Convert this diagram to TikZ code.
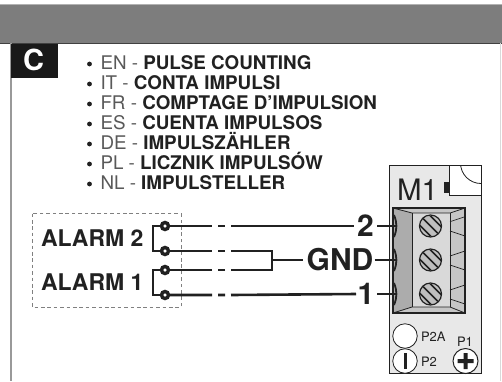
\documentclass[tikz,border=0pt]{standalone}
\usepackage{fontspec}
\setmainfont{TeX Gyre Heros}
\definecolor{txt}{gray}{0.13}
\definecolor{thin}{gray}{0.35}
\tikzset{
  every node/.style={inner sep=0pt,outer sep=0pt,text=txt},
  li/.style={anchor=base west,font=\fontsize{18.8}{20}\selectfont},
  big/.style={font=\bfseries\fontsize{30}{32}\selectfont},
  alarm/.style={font=\bfseries\fontsize{23}{25}\selectfont,anchor=base east},
  term/.style={circle,draw=txt,fill=white,line width=3.4pt,minimum size=7pt},
  wire/.style={draw=txt,line width=1.6pt},
  wirethick/.style={draw=txt,line width=2.6pt},
  block/.style={draw=txt,line width=1.1pt,line join=miter},
  thinl/.style={draw=txt,line width=.7pt},
  screw/.style={circle,draw=txt,line width=1.2pt,fill=gray!50,minimum size=22pt}
}
\newcommand{\entry}[3]{\fill[txt] (89.5,#1-5) circle (2.4);
  \node[li] at (100.5,#1.5) {\textcolor{thin}{#2 - }\textbf{#3}};}
\begin{document}
\begin{tikzpicture}[x=1pt,y=-1pt]
\useasboundingbox (0,0) rectangle (502,381);
\fill[white] (0,0) rectangle (502,381);
% header
\fill[gray!98!black] (0,5) rectangle (502,43);
\draw[gray!60,line width=.8pt] (0,4.5) -- (502,4.5);
\draw[black!75,line width=.8pt] (0,43) -- (502,43);
\draw[gray!80,line width=1.2pt] (11,43) -- (11,381);
\draw[gray!30,line width=.6pt] (500.5,43) -- (500.5,381);
\fill[black!90] (11,44) rectangle (57.5,77.5);
\node[font=\bfseries\fontsize{29}{30}\selectfont,text=white] (lc) at (33.5,60) {C};
% list
\entry{69}{EN}{PULSE COUNTING}
\entry{89}{IT}{CONTA IMPULSI}
\entry{109}{FR}{COMPTAGE D’IMPULSION}
\entry{129}{ES}{CUENTA IMPULSOS}
\entry{149}{DE}{IMPULSZÄHLER}
\entry{169}{PL}{LICZNIK IMPULSÓW}
\entry{189}{NL}{IMPULSTELLER}
% dashed box
\draw[gray,line width=.8pt,dash pattern=on 3.6pt off 2.8pt] (32,213.5) rectangle (181,307);
\node[alarm] (a2) at (143.5,246) {ALARM 2};
\node[alarm] (a1) at (143.5,290) {ALARM 1};
% module
\draw[fill=gray!18,draw=txt,line width=.9pt] (389,165.5) rectangle (481,373.5);
\draw[draw=txt,line width=.9pt,fill=white] (449,165.5) rectangle (481,195);
\begin{scope}
\clip (449,165.5) rectangle (481,195);
\draw[draw=txt,line width=.8pt] (481,163) circle (20.5);
\end{scope}
\fill[txt] (443.5,182) rectangle (449,192.5);
\node[font=\fontsize{29.5}{31}\selectfont,anchor=base west] (m1) at (397,200.5) {M1};
% terminal block
\path[fill=gray!45] (393,208) rectangle (465,313);
\fill[gray!65] (393,208) -- (412,213) -- (412,307) -- (393,313) -- cycle;
\fill[gray!30] (412,213) rectangle (450,307);
\draw[thinl,line width=.8pt] (393,208) -- (412,213) -- (450,213) -- (465,208);
\draw[thinl,line width=.8pt] (393,313) -- (412,307) -- (450,307) -- (465,313);
\draw[thinl,line width=.8pt] (412,213) -- (412,307) (450,213) -- (450,307);
\foreach \a/\b in {221.7/216.7,231/236,256/251,265/270,290/285,299/304}{
  \draw[thinl] (450,\a) -- (465,\b);
}
\draw[block] (393,208) rectangle (465,313);
\foreach \y/\n in {226/sa,260/sb,294/sc}{
  \node[screw] (\n) at (430.5,\y) {};
  \begin{scope}
  \clip (430.5,\y) circle (10.5);
  \foreach \d in {-5,0,5}{
    \draw[txt,line width=1.5pt] (430.5-11+\d,\y-11-\d) -- (430.5+11+\d,\y+11-\d);
  }
  \end{scope}
  \draw[txt,line width=1.8pt] (394,\y-11) to[bend left=22] (394,\y+11);
}
% buttons
\node[circle,draw=txt,line width=.8pt,fill=white,minimum size=24.5pt] (p2a) at (405,336) {};
\node[circle,draw=txt,line width=.8pt,fill=white,minimum size=24.5pt] (p2) at (405,361) {};
\node[circle,draw=txt,line width=1pt,fill=white,minimum size=25pt] (p1) at (465.5,361) {};
\fill[txt] (403.5,353) rectangle (406.5,369);
\fill[txt] (457.5,359) rectangle (473.5,363) (463.5,353) rectangle (467.5,369);
\node[font=\fontsize{13}{14}\selectfont,anchor=base west] at (421,341) {P2A};
\node[font=\fontsize{13}{14}\selectfont,anchor=base west] at (421,366) {P2};
\node[font=\fontsize{13}{14}\selectfont,anchor=base] at (465,346) {P1};
% terminals and labels
\node[big,anchor=base] (n2) at (365.5,236.5) {2};
\node[big,anchor=base] (ng) at (340,270.5) {GND};
\node[big,anchor=base] (n1) at (366,304.5) {1};
\coordinate (j) at (272,260);
\coordinate (t2) at (397,226);
\coordinate (tg) at (397,260);
\coordinate (t1) at (397,294);
\coordinate (e2) at (377,226);
\coordinate (eg) at (374.5,260);
\coordinate (e1) at (377,294);
\coordinate (w2) at (354,226);
\coordinate (wg) at (303,260);
\coordinate (w1) at (356,294);
\node[term] (c1) at (165,226) {};
\node[term] (c2) at (165,251) {};
\node[term] (c3) at (165,270) {};
\node[term] (c4) at (165,295) {};
% brackets
\draw[wire,line width=1.3pt] (c1) -| (153,251) -- (c2);
\draw[wire,line width=1.3pt] (c3) -| (153,295) -- (c4);
% wires with gaps
\draw[wirethick] (c1) -- (212,226) (218,226) -- (225,226) (231,226) -- (w2);
\draw[wirethick] (c4) -- (212,295) (218,295) -- (225,295) (231,295) -- (w1);
\draw[wire] (c2) -- (212,251) (218,251) -- (225,251) (231,251) -- (272,251) -- (272,270) -- (231,270) (225,270) -- (218,270) (212,270) -- (c3);
\draw[wirethick] (j) -- (wg);
\draw[wire] (eg) -- (tg);
\draw[wire] (e2) -- (t2);
\draw[wire] (e1) -- (t1);
\end{tikzpicture}
\end{document}
